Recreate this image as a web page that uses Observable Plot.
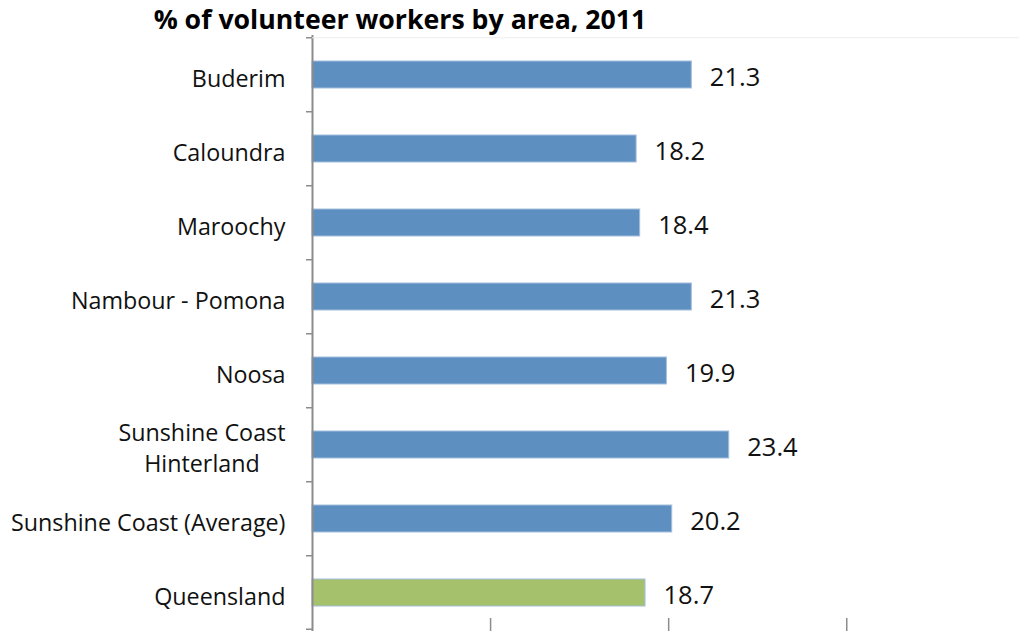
<!DOCTYPE html>
<html>
<head>
<meta charset="utf-8">
<script src="https://cdn.jsdelivr.net/npm/d3@7"></script>
<script src="https://cdn.jsdelivr.net/npm/@observablehq/plot@0.6"></script>
<style>
  body { margin: 0; background: #fff; }
  #wrap { position: relative; width: 1019px; height: 631px; overflow: hidden; }
  #title { position: absolute; left: 0; top: 0px; width: 800px; text-align: center;
           font-family: "Open Sans", sans-serif; font-weight: bold; font-size: 26.7px; color: #000; }
  svg { display: block; }
</style>
</head>
<body>
<div id="wrap">
  <div id="title">% of volunteer workers by area, 2011</div>
  <div id="chart"></div>
</div>
<script>
const areas = ["Buderim", "Caloundra", "Maroochy", "Nambour - Pomona", "Noosa",
  "Sunshine Coast\nHinterland", "Sunshine Coast (Average)", "Queensland"];
const values = [21.3, 18.2, 18.4, 21.3, 19.9, 23.4, 20.2, 18.7];
const groups = ["area", "area", "area", "area", "area", "area", "area", "state"];
const xTicks = [10, 20, 30];

const data = areas.map((a, i) => ({area: a, value: values[i], group: groups[i]}));

const W = 1019, H = 631, mTop = 35, mBottom = 0, mLeft = 312;
const pInner = 0.64, pOuter = 0.32;
const step = (H - mTop - mBottom) / (areas.length - pInner + 2 * pOuter);
const font = "'Open Sans', sans-serif";

const plot = Plot.plot({
  width: W, height: H,
  marginTop: mTop, marginBottom: mBottom, marginLeft: mLeft, marginRight: 0,
  style: {fontFamily: font, background: "white", color: "#000"},
  x: {domain: [0, 39.7]},
  y: {domain: areas, paddingInner: pInner, paddingOuter: pOuter},
  color: {domain: ["area", "state"], range: ["#5E8FC1", "#A6C16C"]},
  marks: [
    Plot.barX(data, {x: "value", y: "area", fill: "group", stroke: "#A3BEDD", strokeWidth: 1}),
    Plot.text(data, {x: "value", y: "area", text: d => d.value.toFixed(1), textAnchor: "start",
      dx: 18, dy: 3, fontSize: 25.5, fill: "#111"}),
    Plot.ruleX([0], {stroke: "#8C8C8C", strokeWidth: 2}),
    Plot.axisY({tickSize: 0, tickPadding: 27, fontSize: 23.3, lineHeight: 1.35, dy: 1.5, fill: "#111", label: null}),
    Plot.axisY({tickSize: 6, tickFormat: () => "", dy: -step / 2, stroke: "#8C8C8C", strokeWidth: 1.5, label: null}),
    Plot.axisY({ticks: [areas[areas.length - 1]], tickSize: 6, tickFormat: () => "", dy: step / 2 - 1, stroke: "#8C8C8C", strokeWidth: 1.5, label: null}),
    Plot.axisX({anchor: "bottom", ticks: xTicks, tickSize: -13, tickFormat: () => "", stroke: "#8C8C8C", strokeWidth: 1.5, label: null}),
    Plot.ruleY([areas[0]], {x1: 0, x2: 39.7, dy: -step / 2, stroke: "#EDEDED", strokeWidth: 1})
  ]
});
document.getElementById("chart").appendChild(plot);

// center the lines of multi-line y labels (as in the source chart)
plot.querySelectorAll("text").forEach(t => {
  const spans = t.querySelectorAll("tspan");
  if (spans.length > 1) {
    const widths = Array.from(spans, s => s.getComputedTextLength());
    const maxW = Math.max(...widths);
    spans.forEach((s, i) => {
      const shift = (maxW - widths[i]) / 2;
      const x0 = parseFloat(s.getAttribute("x") || 0);
      s.setAttribute("x", x0 - shift);
    });
  }
});
</script>
</body>
</html>
